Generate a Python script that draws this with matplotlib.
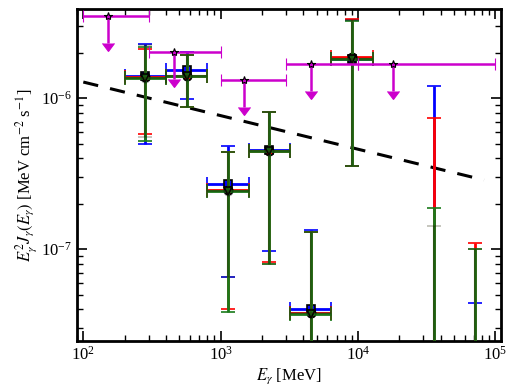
import numpy as np
import matplotlib
matplotlib.use("Agg")
import matplotlib.pyplot as plt
from matplotlib.ticker import LogLocator, NullFormatter

plt.rcParams['font.family'] = ['Liberation Serif', 'DejaVu Serif']
plt.rcParams['mathtext.fontset'] = 'stix'

# ---- data ----
bin_x  = [283, 566, 1131, 2263, 4525, 9051, 35900, 71000]
bin_lo = [200, 400, 800, 1600, 3200, 6400, 35900, 71000]
bin_hi = [400, 800, 1600, 3200, 6400, 12800, 35900, 71000]

blue_y   = [1.40e-6, 1.54e-6, 2.72e-7, 4.53e-7, 4.00e-8, 1.83e-6, 1e-8, 1e-8]
blue_up  = [2.29e-6, 2.03e-6, 4.81e-7, 8.11e-7, 1.33e-7, 3.30e-6, 1.21e-6, 4.38e-8]
blue_lo  = [4.98e-7, 9.85e-7, 6.56e-8, 9.70e-8, 1e-8, 3.53e-7, 1e-8, 1e-8]

red_y    = [1.38e-6, 1.40e-6, 2.45e-7, 4.50e-7, 3.75e-8, 1.88e-6, 1e-8, 1e-8]
red_up   = [2.11e-6, 1.93e-6, 4.41e-7, 8.10e-7, 1.30e-7, 3.33e-6, 7.41e-7, 1.10e-7]
red_lo   = [5.83e-7, 8.80e-7, 4.01e-8, 8.20e-8, 1e-8, 3.55e-7, 1e-8, 1e-8]

green_y  = [1.36e-6, 1.40e-6, 2.43e-7, 4.50e-7, 3.72e-8, 1.81e-6, 1e-8, 1e-8]
green_up = [2.20e-6, 1.93e-6, 4.41e-7, 8.11e-7, 1.30e-7, 3.25e-6, 1.88e-7, 1.00e-7]
green_lo = [5.20e-7, 8.76e-7, 3.81e-8, 8.00e-8, 1e-8, 3.53e-7, 1e-8, 1e-8]

black_y  = [1.37e-6, 1.40e-6, 2.43e-7, 4.50e-7, 3.75e-8, 1.83e-6, 1e-8, 1e-8]
black_up = [2.25e-6, 1.93e-6, 4.41e-7, 8.11e-7, 1.30e-7, 3.30e-6, 1.42e-7, 1.00e-7]
black_lo = [5.50e-7, 8.76e-7, 6.56e-8, 8.00e-8, 1e-8, 3.53e-7, 1e-8, 1e-8]

ul_x  = [151, 461, 1490, 4570, 17900]
ul_lo = [100, 300, 1000, 3000, 10000]
ul_hi = [300, 1000, 3000, 10000, 100000]
ul_y  = [3.50e-6, 2.03e-6, 1.33e-6, 1.69e-6, 1.69e-6]

model_x = [100, 83000]
model_y = [1.28e-6, 2.87e-7]

# ---- figure ----
fig = plt.figure(figsize=(5.10, 3.92), dpi=100)
ax = fig.add_axes([0.151, 0.130, 0.831, 0.847])
ax.set_xscale('log')
ax.set_yscale('log')

def draw(y, up, lo, color, marker, mfc, z, alpha=1.0, lw=2.0):
    y = np.array(y); up = np.array(up); lo = np.array(lo)
    x = np.array(bin_x, float)
    xerr = [x - np.array(bin_lo), np.array(bin_hi) - x]
    yerr = [y - lo, up - y]
    ax.errorbar(x, y, xerr=xerr, yerr=yerr, fmt=marker, color=color,
                mfc=mfc, mec='black', mew=1.2, ms=6, elinewidth=lw,
                capsize=5, capthick=1.5, zorder=z, alpha=alpha)

draw(blue_y, blue_up, blue_lo, '#0000ff', 's', '#0000ff', 3)
draw(red_y, red_up, red_lo, '#ff0000', 'o', '#ff0000', 4)
draw(green_y, green_up, green_lo, '#1a7a1a', 'v', '#1a7a1a', 5)
draw(black_y, black_up, black_lo, '#222200', 'o', 'none', 6, alpha=0.3, lw=1.6)

ulx = np.array(ul_x, float); uly = np.array(ul_y)
ax.errorbar(ulx, uly, xerr=[ulx - np.array(ul_lo), np.array(ul_hi) - ulx],
            yerr=[uly * 0.34, np.zeros_like(uly)], uplims=True,
            fmt='*', color='#cc00cc', mfc='#cc00cc', mec='black', mew=0.8, ms=6,
            elinewidth=1.8, capsize=4, capthick=1.5, zorder=7)

ax.plot(model_x, model_y, ls=(0, (5, 4)), color='black', lw=2.2, zorder=2)

ax.set_xlim(90, 1.1e5)
ax.set_ylim(2.46e-8, 3.9e-6)

for s in ax.spines.values():
    s.set_linewidth(2)
ax.tick_params(which='both', direction='in', top=True, right=True, labelsize=12)
ax.tick_params(which='major', length=7, width=1.2)
ax.tick_params(which='minor', length=4, width=1.0)
ax.xaxis.set_minor_locator(LogLocator(base=10, subs=np.arange(2, 10), numticks=20))
ax.yaxis.set_minor_locator(LogLocator(base=10, subs=np.arange(2, 10), numticks=20))
ax.xaxis.set_minor_formatter(NullFormatter())
ax.yaxis.set_minor_formatter(NullFormatter())

ax.set_xlabel(r'$E_\gamma$ [MeV]', fontsize=12, labelpad=2)
ax.set_ylabel(r'$E_\gamma^2 J_\gamma(E_\gamma)$ [MeV cm$^{-2}$ s$^{-1}$]', fontsize=12, labelpad=2)

fig.savefig('out.png', dpi=100)
